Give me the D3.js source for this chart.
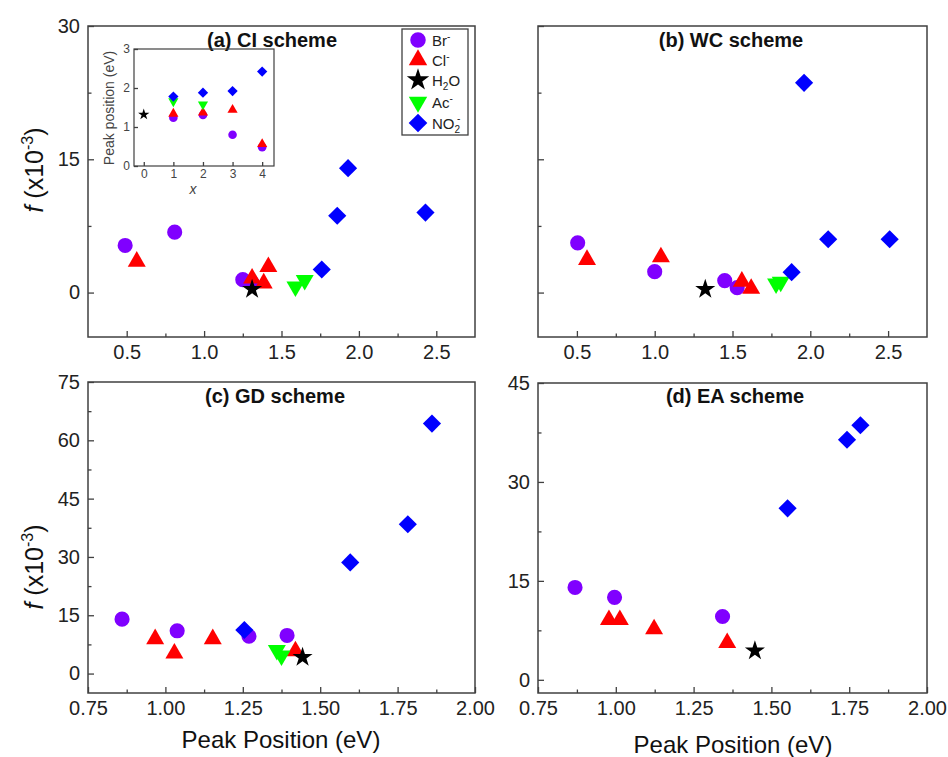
<!DOCTYPE html>
<html><head><meta charset="utf-8">
<script src="https://cdn.jsdelivr.net/npm/d3@7"></script>
<style>body{margin:0;background:#fff} text{font-family:"Liberation Sans",Arial,sans-serif}</style>
</head><body><svg id="chart" width="948" height="757"></svg>
<script>
// ---------- data: [peak position (eV), f (x10^-3)] ----------
const seriesNames = ["Br", "Cl", "H2O", "Ac", "NO2"];
const colors = {Br: "#8000ff", Cl: "#ff0000", H2O: "#000000", Ac: "#00ff00", NO2: "#0000ff"};

// (a) CI scheme
const ciBr  = [[0.49,5.3],[0.81,6.8],[1.25,1.45],[1.31,1.1]];
const ciCl  = [[0.565,3.5],[1.31,1.6],[1.385,1.05],[1.415,2.9]];
const ciH2O = [[1.31,0.37]];
const ciAc  = [[1.59,0.66],[1.65,1.4]];
const ciNO2 = [[1.76,2.6],[1.86,8.65],[1.93,14.0],[2.43,9.0]];

// (b) WC scheme
const wcBr  = [[0.505,5.6],[1.0,2.35],[1.45,1.35],[1.53,0.55]];
const wcCl  = [[0.565,3.7],[1.04,4.0],[1.56,1.25],[1.62,0.45]];
const wcH2O = [[1.325,0.37]];
const wcAc  = [[1.78,1.0],[1.81,1.2]];
const wcNO2 = [[1.88,2.3],[1.96,23.6],[2.115,6.0],[2.51,6.0]];

// (c) GD scheme
const gdBr  = [[0.86,14.0],[1.038,11.0],[1.27,9.6],[1.393,9.8]];
const gdCl  = [[0.967,8.9],[1.029,5.2],[1.153,8.9],[1.42,5.8]];
const gdH2O = [[1.443,4.2]];
const gdAc  = [[1.36,6.0],[1.375,4.6]];
const gdNO2 = [[1.255,11.2],[1.597,28.6],[1.783,38.4],[1.861,64.3]];

// (d) EA scheme
const eaBr  = [[0.869,14.0],[0.996,12.5],[1.343,9.6]];
const eaCl  = [[0.978,9.1],[1.013,9.1],[1.123,7.7],[1.358,5.6]];
const eaH2O = [[1.447,4.4]];
const eaAc  = [];
const eaNO2 = [[1.552,26.0],[1.743,36.4],[1.786,38.6]];

// inset: [x, peak position (eV)]
const inBr  = [[1,1.24],[2,1.31],[3,0.8],[4,0.48]];
const inCl  = [[1,1.34],[2,1.37],[3,1.44],[4,0.56]];
const inH2O = [[0,1.32]];
const inAc  = [[1,1.66],[2,1.58]];
const inNO2 = [[1,1.78],[2,1.88],[3,1.92],[4,2.42]];

// tick values
const xTicksAB = [0.5,1.0,1.5,2.0,2.5], xMinorAB = [0.75,1.25,1.75,2.25];
const xTicksCD = [0.75,1.0,1.25,1.5,1.75,2.0], xMinorCD = [0.875,1.125,1.375,1.625,1.875];
const yTicksAB = [0,15,30], yMinorAB = [7.5,22.5];
const yTicksC = [0,15,30,45,60,75], yMinorC = [7.5,22.5,37.5,52.5,67.5];
const yTicksD = [0,15,30,45], yMinorD = [7.5,22.5,37.5];
const inXTicks = [0,1,2,3,4], inYTicks = [0,1,2,3];

// ---------- drawing ----------
const svg = d3.select("#chart");
const FONT = "Liberation Sans, Arial, sans-serif";
const AXC = "#404040";

function symPath(name, scale) {
  const s = scale || 1;
  if (name === "Br") return d3.symbol(d3.symbolCircle, 180 * s)();
  if (name === "Cl" || name === "Ac") return d3.symbol(d3.symbolTriangle, 140 * s)();
  if (name === "H2O") return d3.symbol(d3.symbolStar, 125 * s)();
  return d3.symbol(d3.symbolSquare, 165 * s)();
}
function symRot(name) { return name === "Ac" ? 180 : (name === "NO2" ? 45 : 0); }

function styleAxis(g, fs, col) {
  g.select(".domain").remove();
  g.selectAll(".tick line").attr("stroke", AXC).attr("stroke-width", 1.3);
  g.selectAll("text").attr("font-size", fs).attr("font-family", FONT).attr("fill", col || "#222");
  g.attr("font-size", null).attr("font-family", null);
}

function drawPoints(g, x, y, data, scale) {
  const order = ["Br", "Cl", "Ac", "NO2", "H2O"];
  order.forEach(name => {
    g.selectAll(null).data(data[name]).enter().append("path")
      .attr("d", symPath(name, scale))
      .attr("fill", colors[name])
      .attr("transform", d => `translate(${x(d[0])},${y(d[1])}) rotate(${symRot(name)})`);
  });
}

function panel(cfg) {
  const g = svg.append("g");
  const x = d3.scaleLinear().domain(cfg.xd).range([cfg.l, cfg.r]);
  const y = d3.scaleLinear().domain(cfg.yd).range([cfg.b, cfg.t]);
  g.append("g").attr("transform", `translate(0,${cfg.b})`)
    .call(d3.axisBottom(x).tickValues(cfg.xMinor).tickSize(-3.5).tickFormat(""))
    .call(a => styleAxis(a, 20));
  g.append("g").attr("transform", `translate(0,${cfg.b})`)
    .call(d3.axisBottom(x).tickValues(cfg.xTicks).tickSize(-6).tickPadding(8).tickFormat(d3.format(cfg.xFmt)))
    .call(a => styleAxis(a, 20));
  g.append("g").attr("transform", `translate(${cfg.l},0)`)
    .call(d3.axisLeft(y).tickValues(cfg.yMinor).tickSize(-3.5).tickFormat(""))
    .call(a => styleAxis(a, 20));
  g.append("g").attr("transform", `translate(${cfg.l},0)`)
    .call(d3.axisLeft(y).tickValues(cfg.yTicks).tickSize(-6).tickPadding(8)
      .tickFormat(cfg.yLabels ? d3.format("d") : ""))
    .call(a => styleAxis(a, 20));
  g.append("rect").attr("x", cfg.l).attr("y", cfg.t).attr("width", cfg.r - cfg.l).attr("height", cfg.b - cfg.t)
    .attr("fill", "none").attr("stroke", AXC).attr("stroke-width", 1.5);
  g.append("text").attr("x", cfg.tx).attr("y", cfg.ty).attr("text-anchor", "middle")
    .attr("font-size", 20).attr("font-weight", "bold").attr("fill", "#111").text(cfg.title);
  drawPoints(g, x, y, cfg.data);
  return {x, y};
}

panel({l: 88, r: 475, t: 26, b: 337, xd: [0.25, 2.75], yd: [-5, 30],
  xTicks: xTicksAB, xMinor: xMinorAB, yTicks: yTicksAB, yMinor: yMinorAB, xFmt: ".1f", yLabels: true,
  title: "(a) CI scheme", tx: 272, ty: 47,
  data: {Br: ciBr, Cl: ciCl, H2O: ciH2O, Ac: ciAc, NO2: ciNO2}});
panel({l: 538, r: 927, t: 26, b: 337, xd: [0.25, 2.75], yd: [-5, 30],
  xTicks: xTicksAB, xMinor: xMinorAB, yTicks: yTicksAB, yMinor: yMinorAB, xFmt: ".1f", yLabels: false,
  title: "(b) WC scheme", tx: 731, ty: 47,
  data: {Br: wcBr, Cl: wcCl, H2O: wcH2O, Ac: wcAc, NO2: wcNO2}});
panel({l: 88, r: 475, t: 382, b: 693, xd: [0.75, 2.0], yd: [-5, 75],
  xTicks: xTicksCD, xMinor: xMinorCD, yTicks: yTicksC, yMinor: yMinorC, xFmt: ".2f", yLabels: true,
  title: "(c) GD scheme", tx: 275, ty: 403,
  data: {Br: gdBr, Cl: gdCl, H2O: gdH2O, Ac: gdAc, NO2: gdNO2}});
panel({l: 538, r: 927, t: 383, b: 693, xd: [0.75, 2.0], yd: [-2, 45],
  xTicks: xTicksCD, xMinor: xMinorCD, yTicks: yTicksD, yMinor: yMinorD, xFmt: ".2f", yLabels: true,
  title: "(d) EA scheme", tx: 735, ty: 403,
  data: {Br: eaBr, Cl: eaCl, H2O: eaH2O, Ac: eaAc, NO2: eaNO2}});

// axis titles
function yTitle(cx, cy) {
  const t = svg.append("text").attr("transform", `translate(${cx},${cy}) rotate(-90)`)
    .attr("text-anchor", "middle").attr("font-size", 25).attr("fill", "#111");
  t.append("tspan").attr("font-style", "italic").text("f");
  t.append("tspan").text(" (x10");
  t.append("tspan").attr("font-size", 16).attr("dy", -10).text("-3");
  t.append("tspan").attr("dy", 10).text(")");
}
yTitle(43, 170);
yTitle(43, 567);
[[281, 748], [733, 753]].forEach(p => {
  svg.append("text").attr("x", p[0]).attr("y", p[1]).attr("text-anchor", "middle")
    .attr("font-size", 24).attr("fill", "#111").text("Peak Position (eV)");
});

// legend
const lg = svg.append("g");
lg.append("rect").attr("x", 402).attr("y", 29).attr("width", 66).attr("height", 106)
  .attr("fill", "#fff").attr("stroke", AXC).attr("stroke-width", 1.3);
const legY = {Br: 40, Cl: 60, H2O: 80, Ac: 102, NO2: 123};
const legLabel = {Br: ["Br", null, "-"], Cl: ["Cl", null, "-"], H2O: ["H", "2", "O"], Ac: ["Ac", null, "-"], NO2: ["NO", "2", "-"]};
seriesNames.forEach(name => {
  const yy = legY[name];
  lg.append("path").attr("d", symPath(name, name === "H2O" ? 1.25 : 1.05)).attr("fill", colors[name])
    .attr("transform", `translate(418,${yy}) rotate(${symRot(name)})`);
  const t = lg.append("text").attr("x", 432).attr("y", yy + 5.5).attr("font-size", 15).attr("fill", "#222");
  const [base, sub, last] = legLabel[name];
  t.append("tspan").text(base);
  if (name === "H2O") {
    t.append("tspan").attr("font-size", 10).attr("dy", 4).text("2");
    t.append("tspan").attr("dy", -4).text("O");
  } else if (sub) {
    t.append("tspan").attr("font-size", 10).attr("dy", 4).text(sub);
    t.append("tspan").attr("font-size", 10).attr("dx", -3).attr("dy", -11).text(last);
  } else {
    t.append("tspan").attr("font-size", 10).attr("dy", -6).text(last);
  }
});

// inset
const ig = svg.append("g");
const ix = d3.scaleLinear().domain([-0.33, 4.4]).range([134, 274]);
const iy = d3.scaleLinear().domain([0, 3]).range([166, 49]);
ig.append("g").attr("transform", "translate(0,166)")
  .call(d3.axisBottom(ix).tickValues(inXTicks).tickSize(-4).tickPadding(3).tickFormat(d3.format("d")))
  .call(a => styleAxis(a, 12, "#444"));
ig.append("g").attr("transform", "translate(134,0)")
  .call(d3.axisLeft(iy).tickValues(inYTicks).tickSize(-4).tickPadding(4).tickFormat(d3.format("d")))
  .call(a => styleAxis(a, 12, "#444"));
ig.append("rect").attr("x", 134).attr("y", 49).attr("width", 140).attr("height", 117)
  .attr("fill", "none").attr("stroke", AXC).attr("stroke-width", 1.2);
ig.append("text").attr("transform", "translate(114,108) rotate(-90)").attr("text-anchor", "middle")
  .attr("font-size", 14).attr("fill", "#444").text("Peak position (eV)");
ig.append("text").attr("x", 193).attr("y", 194).attr("text-anchor", "middle").attr("font-size", 14)
  .attr("font-style", "italic").attr("fill", "#444").text("x");
drawPoints(ig, ix, iy, {Br: inBr, Cl: inCl, H2O: inH2O, Ac: inAc, NO2: inNO2}, 0.32);
</script></body></html>
